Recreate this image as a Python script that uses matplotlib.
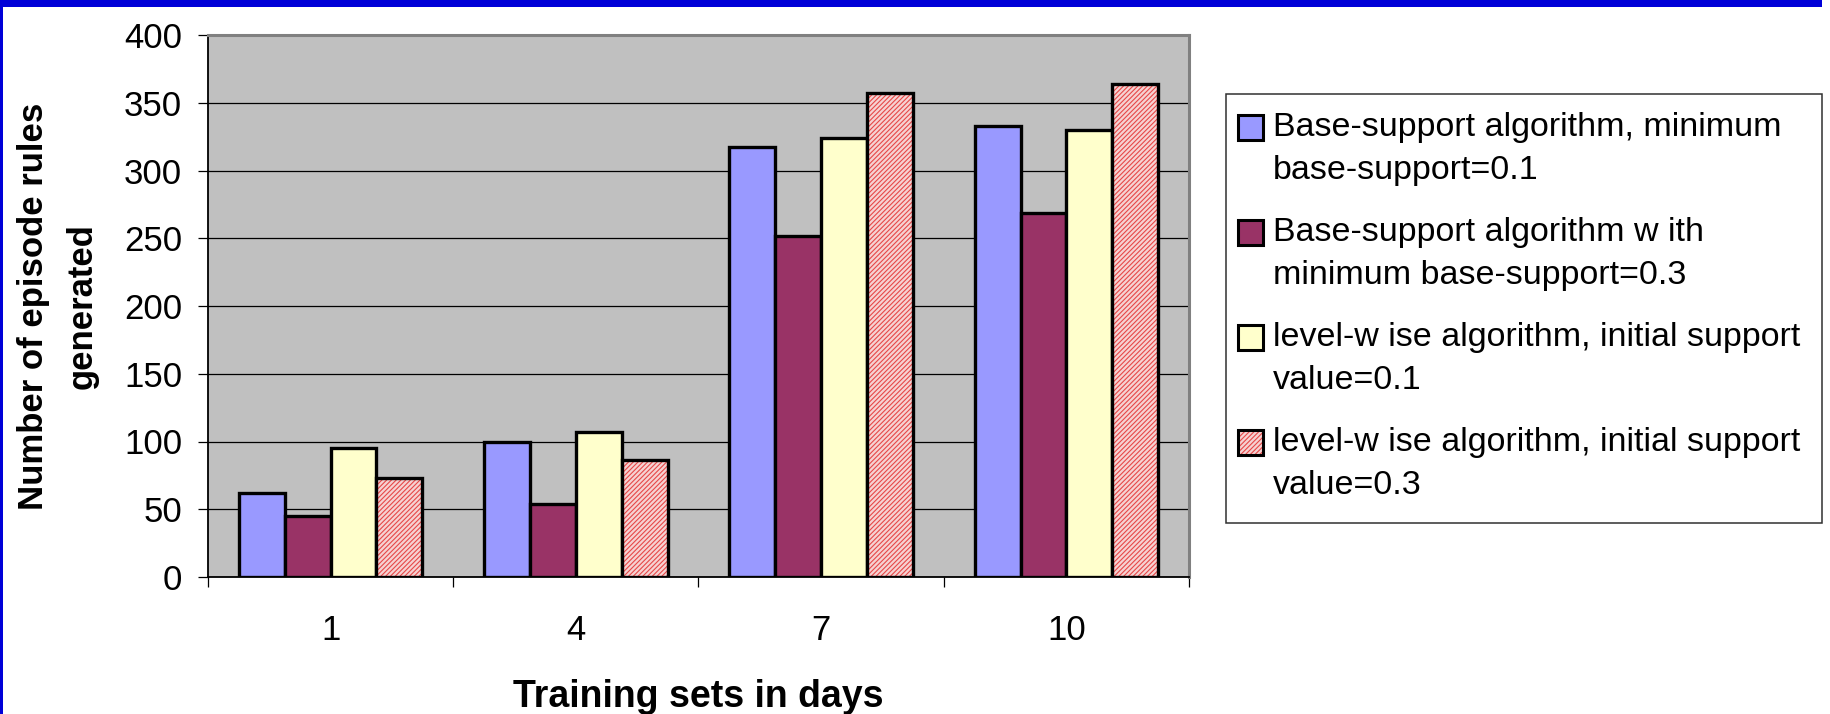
import numpy as np
import matplotlib
matplotlib.use('Agg')
import matplotlib.pyplot as plt
from matplotlib.patches import Rectangle
from matplotlib.transforms import Affine2D

plt.rcParams['font.family'] = ['Liberation Sans', 'DejaVu Sans']
plt.rcParams['hatch.linewidth'] = 0.8

# rules generated per training-set length
days = ['1', '4', '7', '10']
base_01 = [62, 100, 317, 333]
base_03 = [45, 54, 252, 269]
level_01 = [95, 107, 324, 330]
level_03 = [73, 86, 357, 364]

names = ['Base-support algorithm, minimum\nbase-support=0.1',
         'Base-support algorithm w ith\nminimum base-support=0.3',
         'level-w ise algorithm, initial support\nvalue=0.1',
         'level-w ise algorithm, initial support\nvalue=0.3']
colors = ['#9999ff', '#993366', '#ffffcc', '#f6d2d2']
HATCH_RED = '#e64848'
HATCH = '/' * 7

W, H = 1831, 714
fig = plt.figure(figsize=(W / 100, H / 100), dpi=100)
# pixel coords, y going down
pix = Affine2D().scale(1 / W, -1 / H).translate(0, 1) + fig.transFigure

# slide frame
fig.add_artist(Rectangle((0, 0), 1822, 6.5, transform=pix, color='#0000d8', lw=0))
fig.add_artist(Rectangle((0, 0), 3.5, H, transform=pix, color='#0000d8', lw=0))

ax = fig.add_axes([208 / W, 1 - 577 / H, 981 / W, 542 / H])
ax.set_facecolor('#c0c0c0')

x = np.arange(len(days))
w = 0.187
series = [base_01, base_03, level_01, level_03]
for i, (vals, c) in enumerate(zip(series, colors)):
    pos = x + (i - 1.5) * w
    if i == 3:
        ax.bar(pos, vals, w, color=c, edgecolor=HATCH_RED, hatch=HATCH,
               linewidth=0, zorder=3)
        ax.bar(pos, vals, w, facecolor='none', edgecolor='black',
               linewidth=2.4, zorder=4)
    else:
        ax.bar(pos, vals, w, color=c, edgecolor='black', linewidth=2.4, zorder=3)

ax.set_xlim(-0.5, 3.5)
ax.set_ylim(0, 400)
ax.set_yticks(range(0, 401, 50))
ax.yaxis.grid(True, color='black', lw=0.9)
ax.set_axisbelow(True)
ax.set_xticks(x, days)
ax.set_xticks(np.arange(-0.5, 4, 1), minor=True)
ax.tick_params(axis='x', which='major', length=0, pad=27, labelsize=25)
ax.tick_params(axis='x', which='minor', length=7.2, width=0.9, direction='out')
ax.tick_params(axis='y', length=7.2, width=0.9, pad=11.5, labelsize=25)

for side in ['left', 'bottom']:
    ax.spines[side].set_color('black')
    ax.spines[side].set_linewidth(1.3)
for side in ['top', 'right']:
    ax.spines[side].set_color('#808080')
    ax.spines[side].set_linewidth(2.2)
for sp in ax.spines.values():
    sp.set_zorder(5)

fig.text(58, 306, 'Number of episode rules\ngenerated', transform=pix,
         rotation=90, ha='center', va='center', multialignment='center',
         fontsize=25, fontweight='bold', linespacing=1.6)
fig.text(698, 707, 'Training sets in days', transform=pix,
         ha='center', va='baseline', fontsize=27, fontweight='bold')

# legend box
fig.add_artist(Rectangle((1226, 94), 596, 429, transform=pix,
                         facecolor='white', edgecolor='#303030', lw=1.1))
for i, name in enumerate(names):
    top = 115 + 105 * i
    if i == 3:
        fig.add_artist(Rectangle((1238, top), 25, 25, transform=pix,
                                 facecolor=colors[i], edgecolor=HATCH_RED,
                                 hatch=HATCH, lw=0))
        fig.add_artist(Rectangle((1238, top), 25, 25, transform=pix,
                                 facecolor='none', edgecolor='black', lw=2.2))
    else:
        fig.add_artist(Rectangle((1238, top), 25, 25, transform=pix,
                                 facecolor=colors[i], edgecolor='black', lw=2.2))
    for j, line in enumerate(name.split('\n')):
        fig.text(1273, 136 + 105 * i + 43 * j, line, transform=pix,
                 ha='left', va='baseline', fontsize=24.5)

fig.savefig('out.png', dpi=100, facecolor='white')
